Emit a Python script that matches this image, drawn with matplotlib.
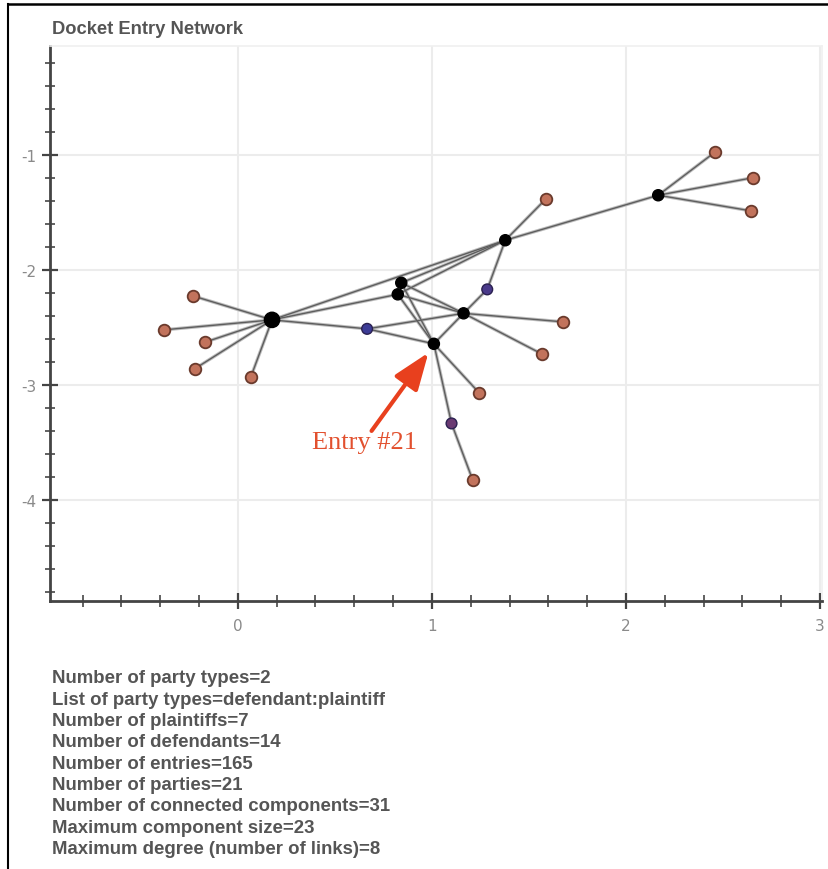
import matplotlib
matplotlib.use("Agg")
import matplotlib.pyplot as plt
from matplotlib.ticker import MultipleLocator
from matplotlib.lines import Line2D

plt.rcParams['axes.unicode_minus'] = False

# ---- data ----
title = "Docket Entry Network"

# entry nodes (black)
entry_names = ["A", "B", "C", "D", "E", "F", "G"]
entry_x = [0.176, 0.842, 0.824, 1.163, 1.010, 1.378, 2.166]
entry_y = [-2.435, -2.113, -2.213, -2.378, -2.643, -1.743, -1.352]
entry_size = [11, 8, 8, 8, 8, 8, 8]

# party nodes (orange)
orange_names = ["o1", "o2", "o3", "o4", "o5", "o6", "o7", "o8", "o9", "o10", "o11", "o12", "o13"]
orange_x = [-0.233, -0.383, -0.171, -0.223, 0.067, 1.244, 1.210, 1.565, 1.674, 1.588, 2.461, 2.653, 2.642]
orange_y = [-2.226, -2.522, -2.630, -2.861, -2.930, -3.070, -3.826, -2.730, -2.452, -1.383, -0.974, -1.200, -1.487]

# purple / blue nodes
purple_names = ["p1", "p2", "p3"]
purple_x = [1.285, 0.666, 1.101]
purple_y = [-2.170, -2.513, -3.335]
purple_colors = ["#4a3a8a", "#3c3c96", "#6a3a72"]

edges = [
    ("A", "o1"), ("A", "o2"), ("A", "o3"), ("A", "o4"), ("A", "o5"),
    ("A", "C"), ("A", "F"), ("A", "p2"),
    ("B", "F"), ("C", "F"), ("B", "E"), ("C", "E"), ("B", "D"), ("C", "D"),
    ("D", "E"), ("D", "p2"), ("D", "p1"), ("D", "o9"), ("D", "o8"),
    ("E", "p2"), ("E", "o6"), ("E", "p3"), ("p3", "o7"),
    ("p1", "F"), ("F", "o10"), ("F", "G"),
    ("G", "o11"), ("G", "o12"), ("G", "o13"),
]

annot_text = "Entry #21"
arrow_head = (0.982, -2.72)
arrow_tail = (0.689, -3.40)
annot_text_xy = (0.652, -3.50)

info_lines = [
    "Number of party types=2",
    "List of party types=defendant:plaintiff",
    "Number of plaintiffs=7",
    "Number of defendants=14",
    "Number of entries=165",
    "Number of parties=21",
    "Number of connected components=31",
    "Maximum component size=23",
    "Maximum degree (number of links)=8",
]

xlim = (-0.968, 3.01)
ylim = (-4.878, -0.055)
x_major = [0, 1, 2, 3]
y_major = [-1, -2, -3, -4]

# ---- figure ----
W, H = 829, 870
fig = plt.figure(figsize=(W / 100, H / 100), dpi=100)
ax = fig.add_axes([50 / W, 1 - 602 / H, (822 - 50) / W, (602 - 47) / H])

pos = {}
for n, x, y in zip(entry_names, entry_x, entry_y):
    pos[n] = (x, y)
for n, x, y in zip(orange_names, orange_x, orange_y):
    pos[n] = (x, y)
for n, x, y in zip(purple_names, purple_x, purple_y):
    pos[n] = (x, y)

for a, b in edges:
    (x0, y0), (x1, y1) = pos[a], pos[b]
    ax.plot([x0, x1], [y0, y1], color="#bdbdbd", lw=2.4, solid_capstyle="round", zorder=1)
    ax.plot([x0, x1], [y0, y1], color="#5e5e5e", lw=1.0, zorder=2)

ax.scatter(orange_x, orange_y, s=70, c="#c2735c", edgecolors="#6a3a2c", linewidths=1.3, zorder=3)
ax.scatter(purple_x, purple_y, s=60, c=purple_colors, edgecolors="#2a2050", linewidths=1.0, zorder=3)
ax.scatter(entry_x, entry_y, s=[v * v for v in entry_size], c="black", zorder=4)

ax.annotate("", xy=arrow_head, xytext=arrow_tail,
            arrowprops=dict(arrowstyle="-|>,head_length=1.2,head_width=0.45",
                            mutation_scale=19, color="#e8401e", lw=3.0,
                            shrinkA=0, shrinkB=0),
            zorder=5)
ax.text(annot_text_xy[0], annot_text_xy[1], annot_text, fontsize=19,
        family="Liberation Serif", color="#e2502e", ha="center", va="center", zorder=5)

ax.set_xlim(*xlim)
ax.set_ylim(*ylim)
ax.set_xticks(x_major)
ax.set_yticks(y_major)
ax.set_xticklabels([str(v) for v in x_major])
ax.set_yticklabels([str(v) for v in y_major])
ax.xaxis.set_minor_locator(MultipleLocator(0.2))
ax.yaxis.set_minor_locator(MultipleLocator(0.2))
ax.grid(True, which="major", color="#ececec", lw=1.5, zorder=0)
ax.set_axisbelow(True)

for s in ["top", "right"]:
    ax.spines[s].set_color("#f0f0f0")
    ax.spines[s].set_linewidth(1.2)
for s in ["left", "bottom"]:
    ax.spines[s].set_color("#444444")
    ax.spines[s].set_linewidth(2.0)

ax.tick_params(axis="x", which="major", direction="inout", length=12, width=1.6,
               color="#444444", labelcolor="#8a8a8a", labelsize=11, pad=6)
ax.tick_params(axis="x", which="minor", direction="inout", length=8, width=1.3, color="#555555")
ax.tick_params(axis="y", which="major", direction="inout", length=11, width=1.6,
               color="#444444", labelcolor="#8a8a8a", labelsize=11, pad=4)
ax.tick_params(axis="y", which="minor", direction="inout", length=7, width=1.3, color="#555555")

fig.text(52 / W, 1 - 29 / H, title, fontsize=13.2, fontweight="bold",
         family="Liberation Sans", color="#555555", ha="left", va="center")

for i, line in enumerate(info_lines):
    fig.text(52 / W, 1 - (679 + 21.3 * i) / H, line, fontsize=13.4, fontweight="bold",
             family="Liberation Sans", color="#555555", ha="left", va="center")

# outer frame lines (top and left)
fig.add_artist(Line2D([8 / W, 1.0], [1 - 5 / H, 1 - 5 / H], color="black", lw=1.8,
                      transform=fig.transFigure))
fig.add_artist(Line2D([8 / W, 8 / W], [0, 1 - 5 / H], color="black", lw=1.5,
                      transform=fig.transFigure))

fig.savefig("out.png", dpi=100)
